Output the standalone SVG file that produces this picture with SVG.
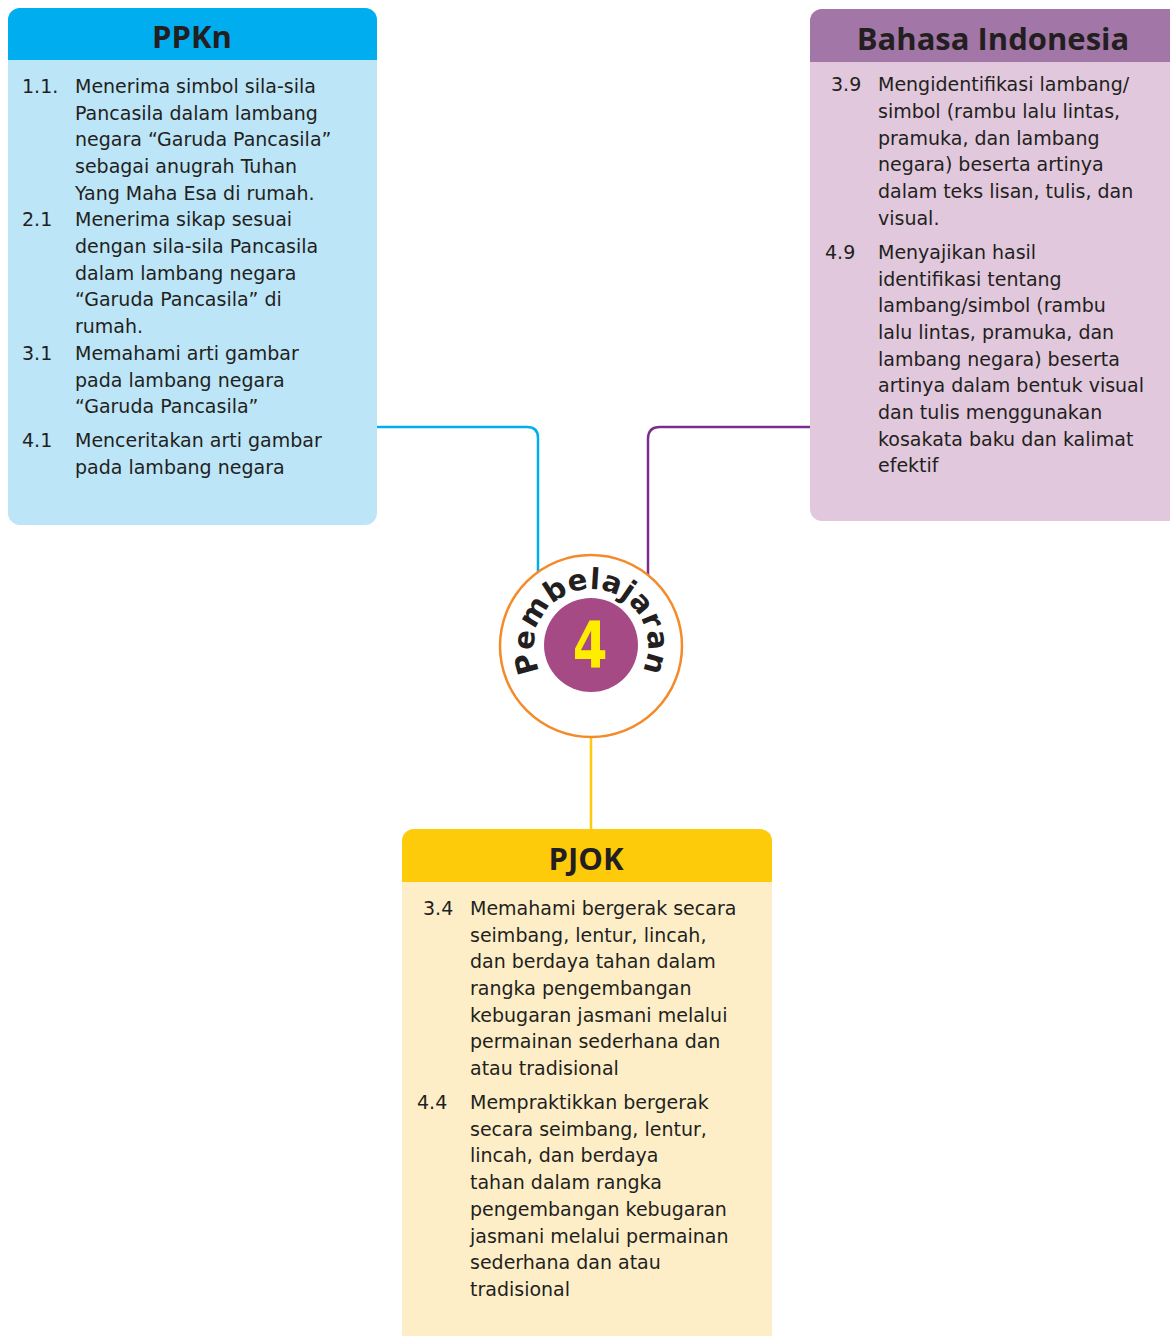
<svg xmlns="http://www.w3.org/2000/svg" width="1170" height="1336" viewBox="0 0 1170 1336">
<style>
.t{font-family:"DejaVu Sans","Noto Sans",sans-serif;font-size:19px;fill:#231F20}
.h{font-family:"Open Sans","Noto Sans",sans-serif;font-size:31px;font-weight:bold;fill:#231F20;text-anchor:middle}
.c{fill:none;stroke-width:2.5}
</style>
<defs>
<clipPath id="cp1"><rect x="8" y="8" width="369" height="517" rx="12"/></clipPath>
<clipPath id="cp2"><rect x="810" y="9" width="372" height="512" rx="12"/></clipPath>
<clipPath id="cp3"><rect x="402" y="829" width="370" height="520" rx="12"/></clipPath>
<path id="arc" d="M591,703 A57,57 0 1 1 591,589 A57,57 0 1 1 591,703"/>
</defs>
<rect width="1170" height="1336" fill="#fff"/>
<g id="connectors">
<path class="c" stroke="#00AEEF" d="M377,427 H527 Q538,427 538,438 V572"/>
<path class="c" stroke="#7D2E8C" d="M810,427 H660 Q648,427 648,439 V575"/>
<path class="c" stroke="#FECB0A" d="M591,737 V829"/>
</g>
<g id="ppkn">
<g clip-path="url(#cp1)">
<rect x="8" y="8" width="369" height="517" fill="#BDE5F8"/>
<rect x="8" y="8" width="369" height="52" fill="#00AEEF"/>
</g>
<text class="h" x="192" y="48">PPKn</text>
<text class="t" x="22" y="93">1.1.</text>
<text class="t" x="75" y="93">Menerima simbol sila-sila</text>
<text class="t" x="75" y="120">Pancasila dalam lambang</text>
<text class="t" x="75" y="146">negara “Garuda Pancasila”</text>
<text class="t" x="75" y="173">sebagai anugrah Tuhan</text>
<text class="t" x="75" y="200">Yang Maha Esa di rumah.</text>
<text class="t" x="22" y="226">2.1</text>
<text class="t" x="75" y="226">Menerima sikap sesuai</text>
<text class="t" x="75" y="253">dengan sila-sila Pancasila</text>
<text class="t" x="75" y="280">dalam lambang negara</text>
<text class="t" x="75" y="306">“Garuda Pancasila” di</text>
<text class="t" x="75" y="333">rumah.</text>
<text class="t" x="22" y="360">3.1</text>
<text class="t" x="75" y="360">Memahami arti gambar</text>
<text class="t" x="75" y="387">pada lambang negara</text>
<text class="t" x="75" y="413">“Garuda Pancasila”</text>
<text class="t" x="22" y="447">4.1</text>
<text class="t" x="75" y="447">Menceritakan arti gambar</text>
<text class="t" x="75" y="474">pada lambang negara</text>
</g>
<g id="bahasa">
<g clip-path="url(#cp2)">
<rect x="810" y="9" width="372" height="512" fill="#E1C8DC"/>
<rect x="810" y="9" width="372" height="53" fill="#A376A8"/>
</g>
<text class="h" x="993" y="50">Bahasa Indonesia</text>
<text class="t" x="831" y="91">3.9</text>
<text class="t" x="878" y="91">Mengidentifikasi lambang/</text>
<text class="t" x="878" y="118">simbol (rambu lalu lintas,</text>
<text class="t" x="878" y="145">pramuka, dan lambang</text>
<text class="t" x="878" y="171">negara) beserta artinya</text>
<text class="t" x="878" y="198">dalam teks lisan, tulis, dan</text>
<text class="t" x="878" y="225">visual.</text>
<text class="t" x="825" y="259">4.9</text>
<text class="t" x="878" y="259">Menyajikan hasil</text>
<text class="t" x="878" y="286">identifikasi tentang</text>
<text class="t" x="878" y="312">lambang/simbol (rambu</text>
<text class="t" x="878" y="339">lalu lintas, pramuka, dan</text>
<text class="t" x="878" y="366">lambang negara) beserta</text>
<text class="t" x="878" y="392">artinya dalam bentuk visual</text>
<text class="t" x="878" y="419">dan tulis menggunakan</text>
<text class="t" x="878" y="446">kosakata baku dan kalimat</text>
<text class="t" x="878" y="472">efektif</text>
</g>
<g id="pjok">
<g clip-path="url(#cp3)">
<rect x="402" y="829" width="370" height="520" fill="#FDEEC8"/>
<rect x="402" y="829" width="370" height="53" fill="#FECB0A"/>
</g>
<text class="h" x="586" y="870">PJOK</text>
<text class="t" x="423" y="915">3.4</text>
<text class="t" x="470" y="915">Memahami bergerak secara</text>
<text class="t" x="470" y="942">seimbang, lentur, lincah,</text>
<text class="t" x="470" y="968">dan berdaya tahan dalam</text>
<text class="t" x="470" y="995">rangka pengembangan</text>
<text class="t" x="470" y="1022">kebugaran jasmani melalui</text>
<text class="t" x="470" y="1048">permainan sederhana dan</text>
<text class="t" x="470" y="1075">atau tradisional</text>
<text class="t" x="417" y="1109">4.4</text>
<text class="t" x="470" y="1109">Mempraktikkan bergerak</text>
<text class="t" x="470" y="1136">secara seimbang, lentur,</text>
<text class="t" x="470" y="1162">lincah, dan berdaya</text>
<text class="t" x="470" y="1189">tahan dalam rangka</text>
<text class="t" x="470" y="1216">pengembangan kebugaran</text>
<text class="t" x="470" y="1243">jasmani melalui permainan</text>
<text class="t" x="470" y="1269">sederhana dan atau</text>
<text class="t" x="470" y="1296">tradisional</text>
</g>
<g id="center">
<circle cx="591" cy="646" r="91" fill="#fff" stroke="#F58A2A" stroke-width="2.5"/>
<circle cx="591" cy="645" r="47" fill="#A64A86"/>
<text transform="translate(590,668) scale(0.78,1)" font-family="'DejaVu Sans','Noto Sans',sans-serif" font-weight="bold" font-size="64" fill="#FFED00" text-anchor="middle">4</text>
<text font-family="'DejaVu Sans','Noto Sans',sans-serif" font-weight="bold" font-size="29" fill="#231F20" letter-spacing="0.5"><textPath href="#arc" startOffset="50%" text-anchor="middle">Pembelajaran</textPath></text>
</g>
</svg>
